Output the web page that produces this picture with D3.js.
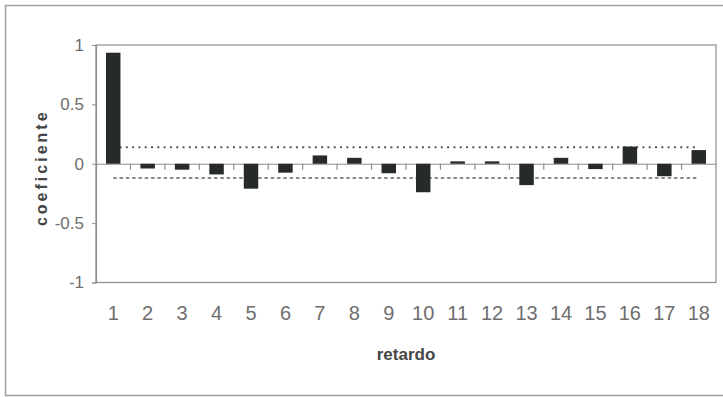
<!DOCTYPE html>
<html>
<head>
<meta charset="utf-8">
<script src="https://cdn.jsdelivr.net/npm/d3@7"></script>
<style>
  html, body { margin: 0; padding: 0; background: #fff; }
  svg { display: block; font-family: Arial, "Liberation Sans", sans-serif; }
</style>
</head>
<body>
<svg id="chart" width="723" height="397"></svg>
<script>
// Autocorrelation coefficients by lag
const lags = [1, 2, 3, 4, 5, 6, 7, 8, 9, 10, 11, 12, 13, 14, 15, 16, 17, 18];
const coefficients = [0.935, -0.04, -0.05, -0.09, -0.21, -0.075, 0.07, 0.05, -0.08,
                      -0.24, 0.02, 0.02, -0.18, 0.05, -0.045, 0.145, -0.105, 0.115];
// Confidence band limits
const upperLimit = 0.14;
const lowerLimit = -0.12;
const yTicks = [1, 0.5, 0, -0.5, -1];

const svg = d3.select("#chart");

const plot = { left: 96, right: 716, top: 45, bottom: 282.5 };

const x = d3.scaleBand()
  .domain(lags)
  .range([plot.left, plot.right])
  .paddingInner(0.58)
  .paddingOuter(0.29);

const y = d3.scaleLinear()
  .domain([-1, 1])
  .range([plot.bottom, plot.top]);

const frameColor = "#8c8c8c";

// Outer chart border
svg.append("path")
  .attr("d", "M723,5.5 H5.5 V395.5 H723")
  .attr("fill", "none")
  .attr("stroke", "#a0a0a0")
  .attr("stroke-width", 1.5);

// Plot area frame
svg.append("rect")
  .attr("x", plot.left)
  .attr("y", plot.top)
  .attr("width", plot.right - plot.left)
  .attr("height", plot.bottom - plot.top)
  .attr("fill", "none")
  .attr("stroke", frameColor)
  .attr("stroke-width", 1.2);

// Y axis (plain hyphen for negatives)
const yAxis = svg.append("g")
  .attr("transform", `translate(${plot.left},0)`)
  .call(d3.axisLeft(y).tickValues(yTicks).tickSize(4).tickPadding(8)
    .tickFormat(d => String(d)));
yAxis.select(".domain").attr("stroke", frameColor).attr("stroke-width", 1.2);
yAxis.selectAll(".tick line").attr("stroke", frameColor);
yAxis.selectAll(".tick text")
  .attr("fill", "#6e6e6e")
  .style("font-size", "17px");

// Confidence limits, spanning first to last lag centre
const limitLine = d3.line()
  .x(d => d[0])
  .y(d => y(d[1]));
const xFirst = x(lags[0]) + x.bandwidth() / 2;
const xLast = x(lags[lags.length - 1]) + x.bandwidth() / 2;

svg.append("path")
  .attr("d", limitLine([[xFirst, upperLimit], [xLast, upperLimit]]))
  .attr("stroke", "#555")
  .attr("stroke-width", 2)
  .attr("stroke-dasharray", "2,4.3")
  .attr("fill", "none");

svg.append("path")
  .attr("d", limitLine([[xFirst, lowerLimit], [xLast, lowerLimit]]))
  .attr("stroke", "#666")
  .attr("stroke-width", 1.6)
  .attr("stroke-dasharray", "3.5,2.8")
  .attr("fill", "none");

// Zero line with category separator ticks
const zeroAxis = svg.append("g")
  .attr("transform", `translate(0,${y(0)})`)
  .call(d3.axisBottom(x).tickValues(lags.slice(1)).tickSize(6).tickSizeOuter(0).tickFormat(""));
zeroAxis.select(".domain").attr("stroke", frameColor).attr("stroke-width", 1.2);
zeroAxis.selectAll(".tick")
  .attr("transform", d => `translate(${x(d) - x.step() * x.paddingInner() / 2},0)`);
zeroAxis.selectAll(".tick line").attr("stroke", frameColor).attr("stroke-width", 1.2);

// Bars
svg.append("g")
  .selectAll("rect")
  .data(lags)
  .join("rect")
  .attr("x", d => x(d))
  .attr("width", x.bandwidth())
  .attr("y", (d, i) => y(Math.max(0, coefficients[i])))
  .attr("height", (d, i) => Math.abs(y(coefficients[i]) - y(0)))
  .attr("fill", "#262a2a");

// Lag labels below the plot
svg.append("g")
  .selectAll("text")
  .data(lags)
  .join("text")
  .attr("x", d => x(d) + x.bandwidth() / 2)
  .attr("y", 320)
  .attr("text-anchor", "middle")
  .attr("fill", "#6e6e6e")
  .style("font-size", "20px")
  .text(d => d);

// Axis titles
svg.append("text")
  .attr("x", (plot.left + plot.right) / 2)
  .attr("y", 360)
  .attr("text-anchor", "middle")
  .attr("fill", "#454545")
  .style("font-size", "17px")
  .style("font-weight", "bold")
  .text("retardo");

svg.append("text")
  .attr("transform", `translate(47,${(plot.top + plot.bottom) / 2 + 4}) rotate(-90)`)
  .attr("text-anchor", "middle")
  .attr("fill", "#454545")
  .style("font-size", "16px")
  .style("font-weight", "bold")
  .style("letter-spacing", "3px")
  .text("coeficiente");
</script>
</body>
</html>
